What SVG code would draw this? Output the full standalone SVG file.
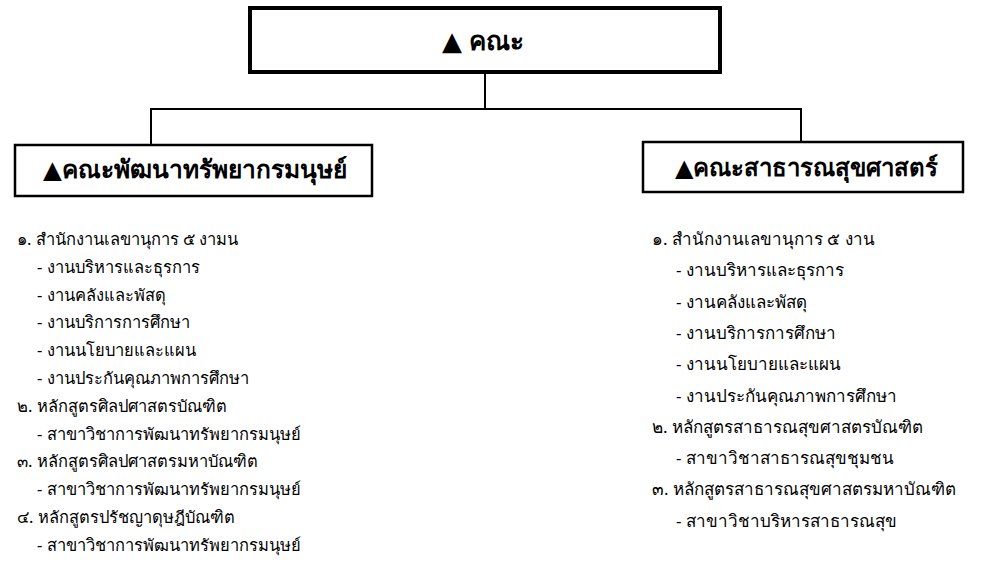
<svg xmlns="http://www.w3.org/2000/svg" width="982" height="577" viewBox="0 0 982 577">
<style>
.box{fill:#fff;stroke:#000;stroke-width:2.5}
.top{fill:#fff;stroke:#000;stroke-width:4}
.title{font-family:"Noto Sans","DejaVu Sans",sans-serif;font-weight:bold;fill:#000}
.item{font-family:"Noto Sans","DejaVu Sans",sans-serif;fill:#000}
.conn{fill:none;stroke:#000;stroke-width:2}
</style>
<rect width="982" height="577" fill="#fff"/>
<g id="connectors">
<path class="conn" d="M485,72 V109 M151,145 V109 H801 V142"/>
</g>
<g id="faculty">
<rect class="top" x="250" y="8" width="470" height="64"/>
<text class="title" x="483" y="50" font-size="26" text-anchor="middle">▲ คณะ</text>
</g>
<g id="hrd">
<rect class="box" x="15" y="145" width="357" height="51"/>
<text class="title" x="43" y="178" font-size="24.5">▲คณะพัฒนาทรัพยากรมนุษย์</text>
</g>
<g id="ph">
<rect class="box" x="643" y="142" width="320" height="50"/>
<text class="title" x="675" y="176" font-size="24">▲คณะสาธารณสุขศาสตร์</text>
</g>
<g id="hrd-list" class="item" font-size="16.5">
<text x="17" y="245">๑. สำนักงานเลขานุการ ๕ งามน</text>
<text x="37" y="272.8">- งานบริหารและธุรการ</text>
<text x="37" y="300.6">- งานคลังและพัสดุ</text>
<text x="37" y="328.4">- งานบริการการศึกษา</text>
<text x="37" y="356.2">- งานนโยบายและแผน</text>
<text x="37" y="384">- งานประกันคุณภาพการศึกษา</text>
<text x="17" y="411.8">๒. หลักสูตรศิลปศาสตรบัณฑิต</text>
<text x="37" y="439.6">- สาขาวิชาการพัฒนาทรัพยากรมนุษย์</text>
<text x="17" y="467.4">๓. หลักสูตรศิลปศาสตรมหาบัณฑิต</text>
<text x="37" y="495.2">- สาขาวิชาการพัฒนาทรัพยากรมนุษย์</text>
<text x="17" y="523">๔. หลักสูตรปรัชญาดุษฎีบัณฑิต</text>
<text x="37" y="550.8">- สาขาวิชาการพัฒนาทรัพยากรมนุษย์</text>
</g>
<g id="ph-list" class="item" font-size="17">
<text x="652" y="245">๑. สำนักงานเลขานุการ ๕ งาน</text>
<text x="676" y="276.3">- งานบริหารและธุรการ</text>
<text x="676" y="307.6">- งานคลังและพัสดุ</text>
<text x="676" y="338.9">- งานบริการการศึกษา</text>
<text x="676" y="370.2">- งานนโยบายและแผน</text>
<text x="676" y="401.5">- งานประกันคุณภาพการศึกษา</text>
<text x="652" y="432.8">๒. หลักสูตรสาธารณสุขศาสตรบัณฑิต</text>
<text x="676" y="464.1">- สาขาวิชาสาธารณสุขชุมชน</text>
<text x="652" y="495.4">๓. หลักสูตรสาธารณสุขศาสตรมหาบัณฑิต</text>
<text x="676" y="526.7">- สาขาวิชาบริหารสาธารณสุข</text>
</g>
</svg>
